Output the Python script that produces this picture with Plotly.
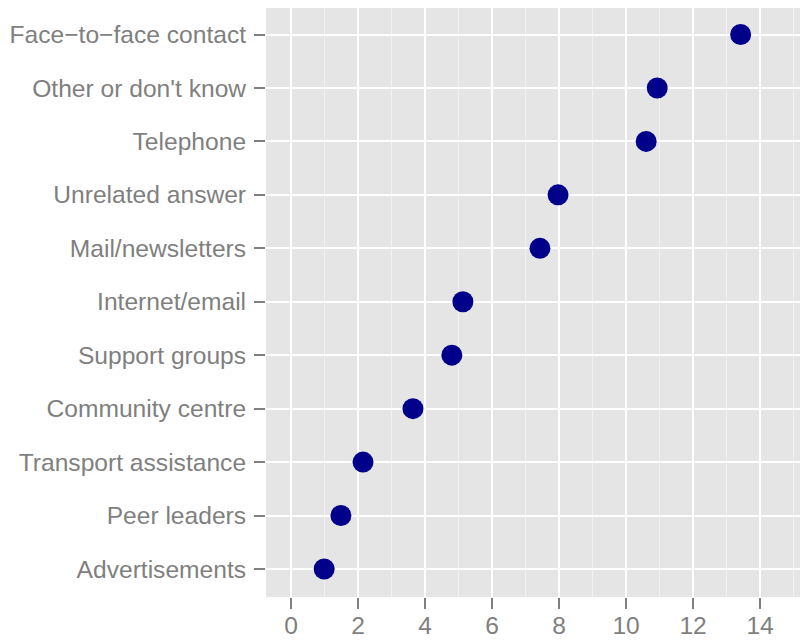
import plotly.graph_objects as go

categories = ["Advertisements", "Peer leaders", "Transport assistance", "Community centre",
              "Support groups", "Internet/email", "Mail/newsletters", "Unrelated answer",
              "Telephone", "Other or don't know", "Face\u2212to\u2212face contact"]
values = [0.99, 1.49, 2.15, 3.64, 4.8, 5.13, 7.43, 7.97, 10.6, 10.93, 13.42]
x_ticks = [0, 2, 4, 6, 8, 10, 12, 14]

fig = go.Figure()
fig.add_trace(go.Scatter(
    x=values, y=categories, mode="markers",
    marker=dict(size=21, color="#00008B", line=dict(width=0)),
    showlegend=False, cliponaxis=False,
))

font = dict(family="Liberation Sans, Arial, sans-serif", size=24.6, color="#7F7F7F")

fig.update_layout(
    width=800, height=632,
    margin=dict(l=258, r=0, t=0, b=43, autoexpand=False),
    plot_bgcolor="#E5E5E5", paper_bgcolor="white",
    font=font,
    xaxis=dict(
        range=[-0.746, 15.43], tickvals=x_ticks, ticktext=[str(v) for v in x_ticks],
        showgrid=True, gridcolor="white", gridwidth=2,
        minor=dict(dtick=1, tick0=0, showgrid=True, gridcolor="#F2F2F2", gridwidth=1, ticks=""),
        ticks="outside", ticklen=11, tickwidth=2, tickcolor="#7F7F7F",
        ticklabelstandoff=-5,
        tickfont=font, zeroline=False, showline=False, automargin=False,
    ),
    yaxis=dict(
        type="category", categoryorder="array", categoryarray=categories,
        range=[-0.524, 10.496],
        showgrid=True, gridcolor="white", gridwidth=2,
        ticks="outside", ticklen=11, tickwidth=2, tickcolor="#7F7F7F",
        ticklabelstandoff=3,
        tickfont=font, zeroline=False, showline=False, automargin=False,
    ),
)

fig.write_html("out.html")
